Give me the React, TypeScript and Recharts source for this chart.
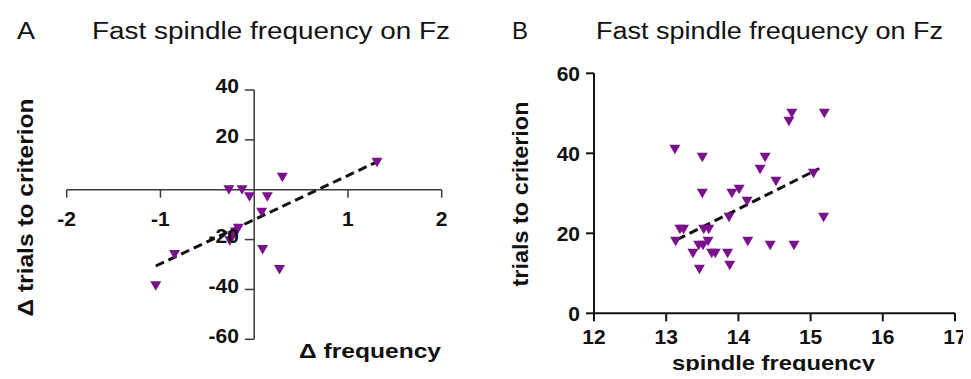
import React from "react"
import { ScatterChart, Scatter, XAxis, YAxis, ReferenceLine } from "recharts"

// Panel A: Δ spindle frequency vs Δ trials to criterion
const deltaFreq = [-1.05, -0.85, -0.27, -0.13, -0.05, 0.14, 0.3, 0.08, 0.09, 0.27, -0.17, -0.2, -0.23, -0.26, 1.31]
const deltaTrials = [-38.5, -26, 0, 0, -2.8, -2.8, 5, -9, -24, -32, -15.5, -17, -18.5, -20.5, 11]
const trendAX = [-1.05, 1.31]
const trendAY = [-30.6, 11.2]
const xTicksA = [-2, -1, 1, 2]
const yTicksA = [40, 20, -20, -40, -60]

// Panel B: spindle frequency vs trials to criterion
const spindleFreq = [
  13.12, 13.5, 13.5, 14.74, 14.7, 15.19, 14.37, 14.3, 14.52, 15.04, 14.01, 13.91, 14.12, 13.87, 15.18, 13.19,
  13.24, 13.52, 13.59, 13.13, 13.58, 14.13, 14.44, 14.77, 13.45, 13.51, 13.37, 13.63, 13.68, 13.85, 13.46, 13.88,
]
const trials = [
  41, 39, 30, 50, 48, 50, 39, 36, 33, 35, 31, 30, 28, 24, 24, 21,
  21, 21, 21, 18, 18, 18, 17, 17, 17, 17, 15, 15, 15, 15, 11, 12,
]
const trendBX = [13.15, 15.12]
const trendBY = [18.4, 36.2]
const xTicksB = [12, 13, 14, 15, 16, 17]
const yTicksB = [0, 20, 40, 60]

const PURPLE = "#7a108c"
const FONT = "'Liberation Sans', Arial, sans-serif"

const pointsA = deltaFreq.map((x, i) => ({ x, y: deltaTrials[i] }))
const pointsB = spindleFreq.map((x, i) => ({ x, y: trials[i] }))

// triângulo apontando pra baixo, como no GraphPad
const DownTriangle = (props: any) => {
  const { cx, cy } = props
  if (cx == null || cy == null) return null
  return (
    <polygon
      points={`${cx - 5.5},${cy - 4.5} ${cx + 5.5},${cy - 4.5} ${cx},${cy + 5}`}
      fill={PURPLE}
    />
  )
}

const tickLabel = { fill: "#111", fontSize: 21, fontWeight: 700 }
const axisA = "#3a3a3a"

function PanelA() {
  return (
    <ScatterChart
      width={480}
      height={379}
      margin={{ top: 90, left: 66.7, right: 38.3, bottom: 39.7 }}
    >
      <XAxis type="number" dataKey="x" domain={[-2, 2]} hide />
      <YAxis type="number" dataKey="y" domain={[-60, 40]} hide />
      <ReferenceLine x={0} stroke={axisA} strokeWidth={1.5} />
      <ReferenceLine y={0} stroke={axisA} strokeWidth={1.5} />
      {yTicksA.map((v) => (
        <ReferenceLine
          key={"ya" + v}
          segment={[{ x: -0.1, y: v }, { x: 0, y: v }]}
          stroke={axisA}
          strokeWidth={1.5}
          label={{ value: String(v), position: "left", offset: 6, dy: -4, ...tickLabel }}
        />
      ))}
      {xTicksA.map((v) => (
        <ReferenceLine
          key={"xa" + v}
          segment={[{ x: v, y: 0 }, { x: v, y: -3.2 }]}
          stroke={axisA}
          strokeWidth={1.5}
          label={{ value: String(v), position: "bottom", offset: 13, ...tickLabel }}
        />
      ))}
      <Scatter data={pointsA} shape={DownTriangle} isAnimationActive={false} />
      <ReferenceLine
        segment={[{ x: trendAX[0], y: trendAY[0] }, { x: trendAX[1], y: trendAY[1] }]}
        stroke="#111"
        strokeWidth={3}
        strokeDasharray="9 5"
      />
    </ScatterChart>
  )
}

function PanelB() {
  return (
    <ScatterChart
      width={491}
      height={379}
      margin={{ top: 73.3, left: 54, right: 16, bottom: 5.7 }}
    >
      <XAxis
        type="number"
        dataKey="x"
        domain={[12, 17]}
        ticks={xTicksB}
        height={60}
        tickSize={8}
        tickMargin={8}
        stroke="#111"
        strokeWidth={2}
        tick={tickLabel}
        allowDataOverflow
      />
      <YAxis
        type="number"
        dataKey="y"
        domain={[0, 60]}
        ticks={yTicksB}
        width={60}
        tickSize={8}
        tickMargin={6}
        stroke="#111"
        strokeWidth={2}
        tick={tickLabel}
        allowDataOverflow
      />
      <Scatter data={pointsB} shape={DownTriangle} isAnimationActive={false} />
      <ReferenceLine
        segment={[{ x: trendBX[0], y: trendBY[0] }, { x: trendBX[1], y: trendBY[1] }]}
        stroke="#111"
        strokeWidth={3}
        strokeDasharray="9 5"
      />
    </ScatterChart>
  )
}

export default function App() {
  return (
    <div
      style={{
        position: "relative",
        width: 971,
        height: 379,
        margin: -8,
        background: "#fff",
        fontFamily: FONT,
        overflow: "hidden",
      }}
    >
      <div style={{ position: "absolute", left: 0, top: 0 }}>
        <PanelA />
      </div>
      <div style={{ position: "absolute", left: 480, top: 0 }}>
        <PanelB />
      </div>
      <svg
        width={971}
        height={379}
        style={{ position: "absolute", left: 0, top: 0, pointerEvents: "none" }}
      >
        <g fill="#111" fontFamily={FONT}>
          <text x={17} y={38.5} fontSize={23} textLength={18} lengthAdjust="spacingAndGlyphs">A</text>
          <text x={92} y={38.5} fontSize={23} textLength={358} lengthAdjust="spacingAndGlyphs">
            Fast spindle frequency on Fz
          </text>
          <text x={512} y={38.5} fontSize={23} textLength={16} lengthAdjust="spacingAndGlyphs">B</text>
          <text x={596} y={38.5} fontSize={23} textLength={347} lengthAdjust="spacingAndGlyphs">
            Fast spindle frequency on Fz
          </text>
          <text
            transform="translate(33,207.5) rotate(-90)"
            textAnchor="middle"
            fontSize={22}
            fontWeight={700}
            textLength={218}
            lengthAdjust="spacingAndGlyphs"
          >
            Δ trials to criterion
          </text>
          <text x={299} y={357.5} fontSize={21} fontWeight={700} textLength={142} lengthAdjust="spacingAndGlyphs">
            Δ frequency
          </text>
          <text
            transform="translate(528,194) rotate(-90)"
            textAnchor="middle"
            fontSize={22}
            fontWeight={700}
            textLength={185}
            lengthAdjust="spacingAndGlyphs"
          >
            trials to criterion
          </text>
          <text x={672} y={370} fontSize={21} fontWeight={700} textLength={203} lengthAdjust="spacingAndGlyphs">
            spindle frequency
          </text>
        </g>
      </svg>
    </div>
  )
}
